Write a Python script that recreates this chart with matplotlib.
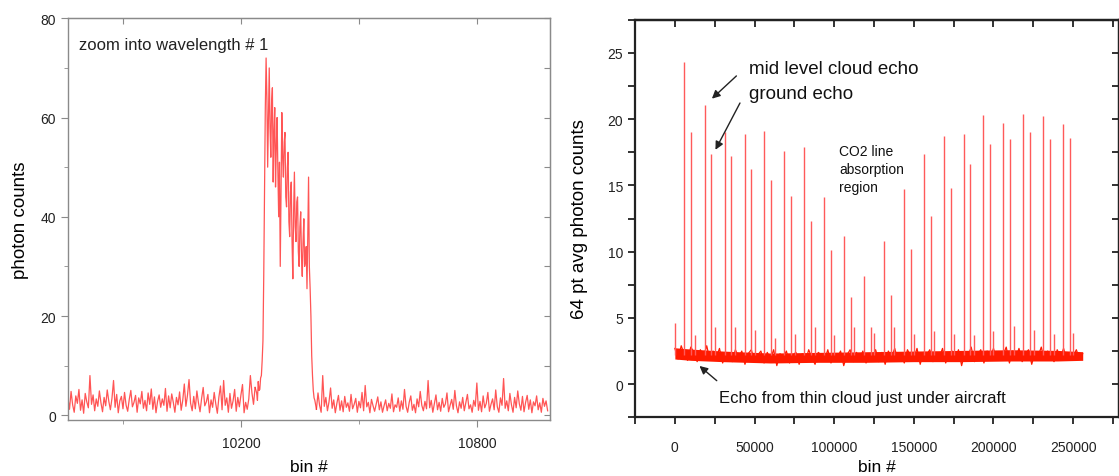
import numpy as np
import matplotlib.pyplot as plt
from matplotlib.ticker import MultipleLocator

plt.rcParams['font.family'] = ['Liberation Sans', 'DejaVu Sans']

# ---- left panel: photon counts around wavelength #1
pre_bins = np.arange(9760, 10240, 4)
pre_counts = [
    3.5, 1.2, 4.8, 2.1, 0.6, 3.9, 2.4, 5.2, 1.0, 3.1, 0.4, 4.4, 2.7, 1.5, 8.0, 2.2, 4.1, 0.9, 3.3, 1.8,
    4.9, 2.5, 0.7, 3.6, 1.9, 5.1, 2.8, 1.1, 3.4, 7.0, 1.6, 4.2, 0.5, 2.9, 3.8, 1.3, 4.6, 2.0, 0.8, 3.2,
    5.0, 1.7, 2.6, 4.0, 0.6, 3.5, 2.3, 4.8, 1.4, 3.0, 0.9, 4.5, 2.2, 5.3, 1.2, 3.7, 0.5, 2.8, 4.1, 1.6,
    3.3, 2.0, 5.4, 0.8, 3.9, 1.5, 4.3, 2.6, 0.6, 3.6, 2.1, 4.7, 1.0, 3.0, 6.3, 1.8, 4.0, 7.2, 2.4, 0.9,
    3.8, 1.3, 4.9, 2.5, 0.7, 3.4, 5.6, 1.9, 2.7, 4.2, 0.5, 3.1, 1.6, 4.6, 2.3, 0.4, 3.7, 5.9, 1.1, 7.0,
    2.0, 3.5, 0.6, 4.4, 1.4, 2.9, 5.2, 0.8, 3.6, 1.7, 4.1, 6.2, 0.5, 2.6, 1.2, 3.3, 8.0, 4.5, 2.2, 5.6,
]
pulse_bins = np.arange(10240, 10390, 2)
pulse_counts = [
    4.5, 3.0, 6.8, 5.0, 5.2, 7.5, 8.0, 11, 15, 28, 45, 62, 72, 64, 50, 60, 70, 58, 52, 63,
    66, 47, 57, 62, 46, 54, 60, 49, 40, 51, 30, 45, 61, 52, 48, 55, 57, 44, 42, 50,
    53, 39, 36, 45, 47, 35, 27.5, 41, 49, 38, 35, 43, 44, 33, 30, 38, 41, 32, 28, 35,
    39.6, 30, 31, 34, 25.5, 36, 48, 30, 25.5, 20, 12, 8, 5, 3.5, 3.0,
]
post_bins = np.arange(10392, 10984, 4)
post_counts = [
    1.2, 4.5, 2.0, 0.6, 8.0, 1.8, 3.6, 0.9, 2.7, 5.5, 1.4, 3.1, 0.5, 2.4, 4.0, 1.0, 2.9, 0.7, 3.8, 1.6,
    2.5, 0.8, 4.2, 1.3, 2.2, 3.4, 0.6, 2.8, 1.5, 4.6, 0.9, 6.0, 1.7, 2.6, 0.5, 3.2, 1.9, 0.8, 2.3, 3.7,
    1.1, 2.7, 0.6, 1.9, 3.1, 0.9, 2.4, 1.4, 4.3, 0.7, 2.1, 1.6, 3.5, 0.8, 2.9, 1.2, 5.2, 1.8, 0.6, 2.6,
    3.9, 1.0, 2.2, 0.5, 3.3, 1.7, 4.8, 2.0, 0.9, 2.8, 1.3, 7.0, 1.5, 3.0, 0.6, 2.4, 4.1, 1.1, 2.6, 0.8,
    3.4, 1.6, 2.3, 4.5, 0.7, 2.0, 3.2, 1.2, 5.0, 1.9, 0.5, 2.7, 1.4, 3.6, 0.9, 2.5, 4.2, 1.3, 2.1, 0.6,
    3.0, 1.8, 6.5, 1.0, 2.8, 0.7, 3.9, 1.5, 2.4, 4.6, 0.8, 2.2, 3.3, 1.1, 5.1, 1.7, 0.6, 3.5, 2.0, 7.4,
    1.4, 2.9, 0.9, 4.4, 2.1, 0.6, 3.6, 1.5, 4.9, 2.3, 1.0, 3.8, 0.7, 2.6, 4.0, 1.2, 3.1, 0.5, 2.7, 1.9,
    3.9, 1.1, 2.5, 0.6, 3.4, 1.8, 2.9, 0.9,
]

# ---- right panel: 64 pt averaged counts over the whole record
base_bins = np.arange(0, 256001, 2000)
base_counts = [
    2.7, 1.9, 2.9, 2.2, 1.8, 2.8, 2.4, 1.7, 2.6, 2.1, 2.9, 1.8, 2.5, 2.0, 2.7, 1.6, 2.4, 2.2, 1.7, 2.6,
    2.0, 2.5, 1.5, 2.3, 2.6, 1.7, 2.2, 2.5, 1.6, 2.4, 1.9, 2.6, 1.4, 2.3, 2.0, 2.5, 1.6, 2.2, 2.4, 1.5,
    2.3, 1.7, 2.6, 2.0, 1.5, 2.4, 2.2, 1.8, 2.6, 1.6, 2.3, 2.0, 2.5, 1.4, 2.2, 2.6, 1.7, 2.4, 1.9, 2.5,
    1.6, 2.3, 2.1, 2.6, 1.7, 2.4, 1.5, 2.5, 2.0, 2.7, 1.8, 2.3, 1.6, 2.6, 2.1, 1.9, 2.7, 1.5, 2.4, 2.2,
    2.6, 1.7, 2.4, 2.0, 2.7, 1.6, 2.3, 2.5, 1.8, 2.6, 1.4, 2.4, 2.1, 2.8, 1.7, 2.2, 2.6, 1.6, 2.5, 2.0,
    2.7, 1.8, 2.4, 2.2, 2.8, 1.6, 2.5, 2.0, 2.7, 1.7, 2.3, 2.6, 1.5, 2.4, 2.1, 2.8, 1.8, 2.5, 2.2, 1.7,
    2.6, 2.0, 2.7, 1.8, 2.4, 2.1, 2.6, 1.9, 2.3,
]
band_bins = [0, 10000, 30000, 60000, 90000, 120000, 150000, 180000, 210000, 240000, 256000]
band_hi = [2.75, 2.65, 2.5, 2.35, 2.4, 2.45, 2.5, 2.55, 2.6, 2.55, 2.45]
band_lo = [1.9, 1.8, 1.7, 1.6, 1.65, 1.65, 1.7, 1.7, 1.75, 1.75, 1.8]
base_level = 2.2

echo_bins = [6050, 10310, 18610, 22870, 31160, 35420, 43720, 47980, 56050, 60310,
             68610, 72870, 81160, 85420, 93720, 97750, 106270, 110310, 118830, 122870,
             131160, 135420, 143720, 147980, 156270, 160530, 168830, 173090, 181380, 185420,
             193720, 197980, 206270, 210530, 218830, 223090, 231380, 235640, 243940, 248200]
echo_counts = [24.3, 19.0, 21.1, 17.4, 19.0, 17.2, 18.9, 16.2, 19.1, 15.4,
               17.6, 14.2, 17.9, 12.3, 14.1, 10.1, 11.2, 6.6, 8.2, 4.3,
               10.8, 6.7, 14.7, 10.2, 17.4, 12.7, 18.7, 14.8, 18.9, 16.6,
               20.3, 18.1, 19.7, 18.5, 20.4, 19.0, 20.2, 18.5, 19.6, 18.6]
small_bins = [0, 12600, 25150, 37700, 50000, 62600, 75150, 87700, 100000, 112600, 125150,
              137700, 150000, 162600, 175150, 187700, 200000, 212600, 225150, 237700, 250000]
small_counts = [4.6, 3.7, 4.3, 4.3, 4.1, 3.5, 3.8, 4.3, 3.7, 4.3, 3.9,
                4.3, 3.8, 4.0, 3.8, 3.7, 4.0, 4.4, 4.1, 3.8, 3.9]

fig = plt.figure(figsize=(11.19, 4.77), dpi=100)
ax1 = fig.add_axes([0.0607, 0.118, 0.4308, 0.8415])
ax2 = fig.add_axes([0.5675, 0.123, 0.4321, 0.8336])

# left panel
line_kw = dict(color='#ff2a2a', lw=0.9, alpha=0.8)
ax1.plot(pre_bins, pre_counts, **line_kw)
ax1.plot(np.r_[pre_bins[-1], pulse_bins, post_bins[0]],
         np.r_[pre_counts[-1], pulse_counts, post_counts[0]], **line_kw)
ax1.plot(post_bins, post_counts, **line_kw)
ax1.set_xlim(9760, 10986)
ax1.set_ylim(-0.9, 80)
ax1.xaxis.set_minor_locator(MultipleLocator(300))
ax1.yaxis.set_major_locator(MultipleLocator(20))
ax1.yaxis.set_minor_locator(MultipleLocator(10))
ax1.set_xticks([10200, 10800])
ax1.set_xlabel('bin #', fontsize=12.5, labelpad=6)
ax1.set_ylabel('photon counts', fontsize=13.5, labelpad=8)
ax1.text(9787, 74.8, 'zoom into wavelength # 1', fontsize=12, va='center', ha='left', color='#222')
for s in ax1.spines.values():
    s.set_color('#8a8a8a')
    s.set_linewidth(1.0)
ax1.tick_params(which='major', direction='out', length=5, color='#8a8a8a', labelsize=10, labelcolor='#222')
ax1.tick_params(which='minor', direction='out', length=3, color='#8a8a8a')
ax1.tick_params(axis='x', pad=7)

top1 = ax1.secondary_xaxis('top')
top1.xaxis.set_major_locator(MultipleLocator(300))
top1.tick_params(direction='in', length=4, color='#8a8a8a', labeltop=False)
top1.spines['top'].set_color('#8a8a8a')
right1 = ax1.secondary_yaxis('right')
right1.yaxis.set_major_locator(MultipleLocator(10))
right1.tick_params(direction='in', length=4, color='#8a8a8a', labelright=False)
right1.spines['right'].set_color('#8a8a8a')

# right panel
ax2.fill_between(band_bins, band_lo, band_hi, color='#ff1a00', lw=0)
ax2.plot(base_bins, base_counts, color='#ff1a00', lw=0.9)
ax2.vlines(echo_bins, base_level, echo_counts, color='#ff5a5a', lw=1.0)
ax2.vlines(small_bins, base_level, small_counts, color='#ff5a5a', lw=1.0)
ax2.set_xlim(-25000, 278500)
ax2.set_ylim(-2.5, 27.5)
ax2.xaxis.set_minor_locator(MultipleLocator(25000))
ax2.yaxis.set_major_locator(MultipleLocator(5))
ax2.yaxis.set_minor_locator(MultipleLocator(2.5))
ax2.set_xticks([0, 50000, 100000, 150000, 200000, 250000])
ax2.set_xlabel('bin #', fontsize=12.5, labelpad=4)
ax2.set_ylabel('64 pt avg photon counts', fontsize=13.5, labelpad=14)
for s in ax2.spines.values():
    s.set_color('#222222')
    s.set_linewidth(1.6)
ax2.tick_params(which='major', direction='out', length=5, width=1.3, color='#222', labelsize=10, labelcolor='#222')
ax2.tick_params(which='minor', direction='out', length=5, width=1.3, color='#222')
ax2.tick_params(axis='x', pad=11)

top2 = ax2.secondary_xaxis('top')
top2.xaxis.set_major_locator(MultipleLocator(25000))
top2.tick_params(direction='in', length=5, width=1.3, color='#222', labeltop=False)
top2.spines['top'].set_linewidth(1.6)
right2 = ax2.secondary_yaxis('right')
right2.yaxis.set_major_locator(MultipleLocator(2.5))
right2.tick_params(direction='in', length=5, width=1.3, color='#222', labelright=False)
right2.spines['right'].set_linewidth(1.6)

ax2.text(46450, 23.8, 'mid level cloud echo', fontsize=13.5, va='center', ha='left', color='#111')
ax2.text(46450, 21.9, 'ground echo', fontsize=13.5, va='center', ha='left', color='#111')
ax2.annotate('', xy=(21970, 21.4), xytext=(39900, 23.4),
             arrowprops=dict(arrowstyle='-|>', color='#222', lw=1.0, mutation_scale=12))
ax2.annotate('', xy=(24670, 17.5), xytext=(41680, 21.4),
             arrowprops=dict(arrowstyle='-|>', color='#222', lw=1.0, mutation_scale=12))
ax2.text(103140, 16.25, 'CO2 line\nabsorption\nregion', fontsize=10, va='center', ha='left',
         linespacing=1.35, color='#111')
ax2.text(28000, -1.0, 'Echo from thin cloud just under aircraft', fontsize=12, va='center',
         ha='left', color='#111')
ax2.annotate('', xy=(14120, 1.51), xytext=(27620, 0.13),
             arrowprops=dict(arrowstyle='-|>', color='#222', lw=1.0, mutation_scale=12))

fig.savefig('out.png', dpi=100)
